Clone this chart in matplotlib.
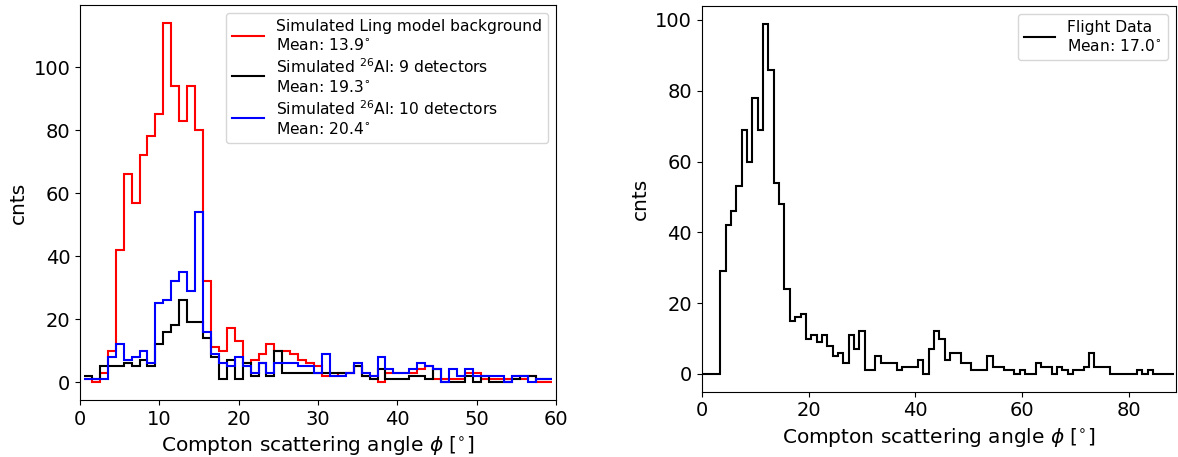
import numpy as np
import matplotlib
matplotlib.use("Agg")
import matplotlib.pyplot as plt

# ---- data (counts per 1-degree bin) ----
# Left panel: bins centred on 1..59 degrees
left_bin_start = 0.5
ling_bg = [1, 0, 3, 10, 42, 66, 57, 72, 78, 85, 114, 94, 83, 94, 80, 32, 11, 10, 17, 13,
           6, 7, 9, 12, 10, 10, 9, 7, 6, 5, 2, 2, 3, 3, 5, 2, 2, 0, 3, 3,
           3, 3, 4, 5, 1, 1, 1, 1, 3, 3, 1, 1, 1, 1, 2, 1, 2, 0, 0]
al26_9det = [2, 1, 5, 5, 5, 6, 5, 7, 5, 12, 16, 18, 26, 19, 19, 14, 8, 1, 7, 1,
             6, 2, 6, 2, 10, 3, 3, 3, 3, 3, 3, 3, 3, 3, 5, 2, 1, 4, 1, 1,
             1, 2, 2, 1, 4, 0, 0, 0, 2, 0, 2, 0, 0, 0, 1, 2, 2, 1, 1]
al26_10det = [1, 1, 1, 8, 12, 7, 8, 10, 6, 25, 26, 32, 35, 29, 54, 16, 9, 6, 5, 8,
              5, 3, 6, 3, 6, 6, 6, 5, 5, 3, 9, 2, 2, 3, 6, 3, 2, 8, 4, 3,
              3, 4, 6, 5, 4, 0, 4, 2, 4, 2, 2, 2, 2, 0, 2, 2, 0, 1, 1]

# Right panel: bins centred on 0..88 degrees
right_bin_start = -0.5
flight = [0, 0, 0, 0, 29, 42, 46, 53, 69, 60, 78, 69, 99, 86, 54, 48, 24, 15, 16, 17,
          10, 11, 9, 11, 8, 5, 6, 3, 11, 7, 12, 1, 1, 5, 3, 3, 3, 1, 2, 2,
          2, 4, 0, 7, 12, 10, 4, 6, 6, 3, 3, 1, 1, 1, 5, 2, 2, 1, 1, 0,
          1, 0, 0, 3, 2, 2, 0, 2, 1, 0, 1, 1, 2, 6, 2, 2, 2, 0, 0, 0,
          0, 0, 1, 0, 1, 0, 0, 0, 0]

left_labels = [
    "Simulated Ling model background\nMean: 13.9$^{\\circ}$",
    "Simulated $^{26}$Al: 9 detectors\nMean: 19.3$^{\\circ}$",
    "Simulated $^{26}$Al: 10 detectors\nMean: 20.4$^{\\circ}$",
]
right_label = "Flight Data\nMean: 17.0$^{\\circ}$"
xlabel = "Compton scattering angle $\\phi$ [$^{\\circ}$]"
ylabel = "cnts"

W, H = 1178, 457
fig = plt.figure(figsize=(W / 100, H / 100), dpi=100)

ax1 = fig.add_axes([80 / W, 1 - 400 / H, 476 / W, 395 / H])
ax2 = fig.add_axes([701.7 / W, 1 - 391.5 / H, 473.8 / W, 385.5 / H])

lw = 1.5
edges_l = left_bin_start + np.arange(len(ling_bg) + 1)
for vals, col, lab in zip([ling_bg, al26_9det, al26_10det], ["red", "black", "blue"], left_labels):
    ax1.stairs(vals, edges_l, color=col, linewidth=lw, label=lab, baseline=None)
ax1.set_xlim(0, 60)
ax1.set_ylim(-5.7, 119.7)
ax1.set_xlabel(xlabel, fontsize=14.5)
ax1.set_ylabel(ylabel, fontsize=14.5)
ax1.tick_params(labelsize=14)
ax1.legend(loc="upper right", fontsize=11.2, labelspacing=0.3)

edges_r = right_bin_start + np.arange(len(flight) + 1)
ax2.stairs(flight, edges_r, color="black", linewidth=lw, label=right_label, baseline=None)
ax2.set_xlim(0, 88.7)
ax2.set_ylim(-4.95, 103.95)
ax2.set_xlabel(xlabel, fontsize=14.5)
ax2.set_ylabel(ylabel, fontsize=14.5)
ax2.tick_params(labelsize=14)
ax2.legend(loc="upper right", fontsize=11.2, labelspacing=0.3)

fig.savefig("out.png", dpi=100)
